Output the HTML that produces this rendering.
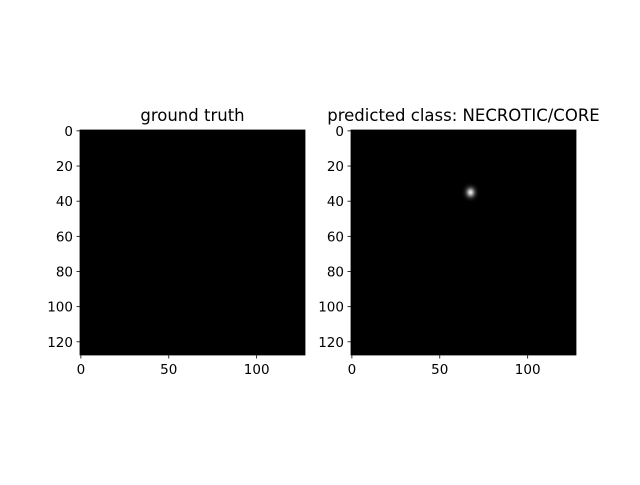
<!DOCTYPE html>
<html><head><meta charset="utf-8"><style>
body{margin:0;background:#fff;}
svg text{font-family:"DejaVu Sans","Liberation Sans",sans-serif;font-size:13.5px;fill:#000;}
</style></head><body>
<svg id="chart" width="640" height="480" xmlns="http://www.w3.org/2000/svg">
<defs>
<radialGradient id="blob">
<stop offset="0" stop-color="#fff" stop-opacity="1"/>
<stop offset="0.25" stop-color="#ccc" stop-opacity="0.8"/>
<stop offset="0.6" stop-color="#555" stop-opacity="0.35"/>
<stop offset="1" stop-color="#000" stop-opacity="0"/>
</radialGradient>
</defs>
</svg>
<script>
const panelTitles = ["ground truth", "predicted class: NECROTIC/CORE"];
const xTicks = [0, 50, 100];
const yTicks = [0, 20, 40, 60, 80, 100, 120];
const blobX = [67.5];
const blobY = [35];
const blobR = [5.5];
const panelLeft = [80, 351];
const svg = document.getElementById('chart');
const NS = 'http://www.w3.org/2000/svg';
const top0 = 130, size = 225, n = 128;
function sx(i, v){ return panelLeft[i] + (v + 0.5) * size / n; }
function sy(v){ return top0 + (v + 0.5) * size / n; }
function mk(tag, attrs, parent){ const e = document.createElementNS(NS, tag); for (const k in attrs) e.setAttribute(k, attrs[k]); (parent||svg).appendChild(e); return e; }
panelTitles.forEach((t, i) => {
  const g = mk('g', {});
  
  
  const r = mk('rect', {x: panelLeft[i], y: top0, width: size, height: size, fill: '#000'}, g);
  
  
  if (i === 1) {
    blobX.forEach((bx, k) => {
      const rr = blobR[k] * size / n;
      const c = mk('ellipse', {cx: sx(i, bx), cy: sy(blobY[k]), rx: rr, ry: rr * 1.1, fill: 'url(#blob)'}, g);
      
      
    });
  }
  const tt = mk('text', {x: panelLeft[i] + size / 2, y: top0 - 9, 'text-anchor': 'middle', style: 'font-size:16.5px'}, g);
  tt.textContent = t;
  
  
  xTicks.forEach(v => {
    const x = sx(i, v);
    const l = mk('line', {x1: x, x2: x, y1: top0 + size, y2: top0 + size + 3.5, stroke: '#000', 'stroke-width': 0.8}, g);
    
    
    const tx = mk('text', {x: x, y: top0 + size + 19, 'text-anchor': 'middle'}, g);
    tx.textContent = v;
    
    
  });
  yTicks.forEach(v => {
    const y = sy(v);
    const l = mk('line', {x1: panelLeft[i] - 3.5, x2: panelLeft[i], y1: y, y2: y, stroke: '#000', 'stroke-width': 0.8}, g);
    
    
    const ty = mk('text', {x: panelLeft[i] - 7, y: y + 5, 'text-anchor': 'end'}, g);
    ty.textContent = v;
    
    
  });
  const f = mk('rect', {x: panelLeft[i], y: top0, width: size, height: size, fill: 'none', stroke: '#000', 'stroke-width': 0.8}, g);
  
  
});
</script>
</body></html>
